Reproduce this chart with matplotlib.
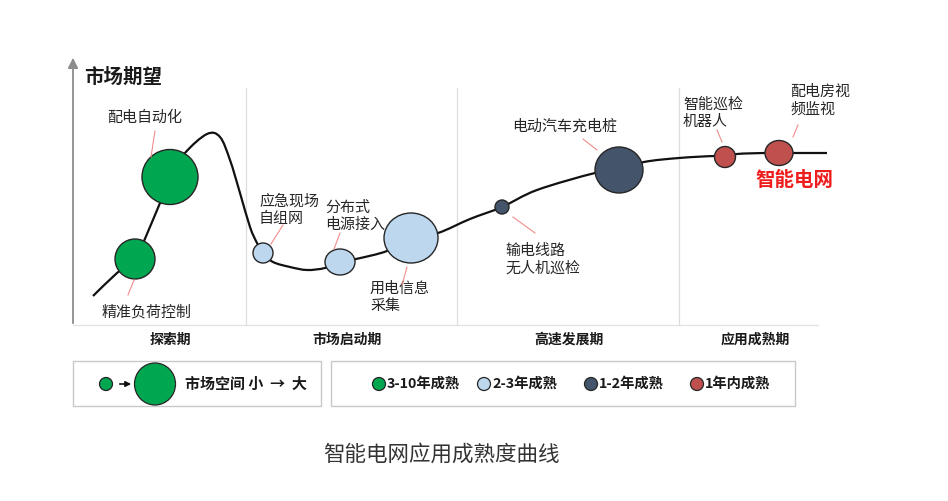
import matplotlib.pyplot as plt
from matplotlib.patches import Ellipse, Rectangle
from matplotlib.path import Path
from matplotlib.patches import PathPatch

plt.rcParams['font.family'] = ['Noto Sans CJK SC', 'DejaVu Sans']

# 曲线上读出的点 (像素坐标)
curve_x = [93, 117, 135, 160, 170, 185, 207, 220, 230, 240, 250, 257, 263, 273, 290, 307, 325, 340,
           356, 387, 411, 438, 470, 502, 537, 595, 619, 644, 679, 715, 725, 737, 765, 779, 827]
curve_y = [296, 273, 259, 203, 177, 153, 134, 137, 160, 193, 227, 243, 253, 262, 267, 270, 268, 262,
           259, 251, 238, 233, 219, 207, 190, 173, 170, 162, 158, 156, 157, 154, 153, 153, 153]

# 气泡
bubble_x = [135, 170, 263, 340, 411, 502, 619, 725, 779]
bubble_y = [259, 177, 253, 262, 238, 207, 170, 157, 153]
bubble_w = [40, 56, 20, 30, 54, 14, 48, 21, 28]
bubble_h = [40, 55, 20, 26, 50, 14, 46, 21, 25]
bubble_group = [0, 0, 1, 1, 1, 2, 2, 3, 3]

group_colors = ['#00a650', '#bdd7ee', '#44546a', '#c0504d']
group_names = ['3-10年成熟', '2-3年成熟', '1-2年成熟', '1年内成熟']

# 标注
label_text = ['精准负荷控制', '配电自动化', '应急现场\n自组网', '分布式\n电源接入', '用电信息\n采集',
              '输电线路\n无人机巡检', '电动汽车充电桩', '智能巡检\n机器人', '配电房视\n频监视']
label_x = [102, 107, 259, 325, 370, 505, 512, 683, 790]
label_y = [312, 118, 210, 216, 297, 260, 126, 113, 101]
leader_x0 = [134, 155, 283, 340, 407, 513, 583, 717, 798]
leader_y0 = [280, 131, 225, 233, 267, 217, 139, 130, 125]
leader_x1 = [128, 151, 271, 334, 402, 535, 597, 722, 793]
leader_y1 = [295, 157, 244, 249, 285, 233, 150, 142, 137]

# 阶段
phase_names = ['探索期', '市场启动期', '高速发展期', '应用成熟期']
phase_x = [170, 347, 569, 755]
sep_x = [246, 457, 679]

fig = plt.figure(figsize=(9.48, 5.01), dpi=100)
ax = fig.add_axes([0, 0, 1, 1])
ax.set_xlim(0, 948)
ax.set_ylim(501, 0)
ax.axis('off')

# 分隔线和底线
for x in sep_x:
    ax.plot([x, x], [88, 325], color='#dddddd', lw=0.9, zorder=1)
ax.plot([73, 818], [325, 325], color='#e2e2e2', lw=0.9, zorder=1)

# y 轴箭头
ax.annotate('', xy=(73, 55), xytext=(73, 326),
            arrowprops=dict(arrowstyle='-|>', color='#8c8c8c', lw=1.3, mutation_scale=15))
ax.text(84, 77, '市场期望', fontsize=14, fontweight='bold', color='#1a1a1a', va='center', ha='left')

# 平滑曲线 (Catmull-Rom 转成贝塞尔)
pts = list(zip(curve_x, curve_y))
verts = [pts[0]]
codes = [Path.MOVETO]
n = len(pts)
for i in range(n - 1):
    p0 = pts[max(i - 1, 0)]
    p1 = pts[i]
    p2 = pts[i + 1]
    p3 = pts[min(i + 2, n - 1)]
    c1 = (p1[0] + (p2[0] - p0[0]) / 6, p1[1] + (p2[1] - p0[1]) / 6)
    c2 = (p2[0] - (p3[0] - p1[0]) / 6, p2[1] - (p3[1] - p1[1]) / 6)
    verts += [c1, c2, p2]
    codes += [Path.CURVE4] * 3
ax.add_patch(PathPatch(Path(verts, codes), fill=False, edgecolor='#111111', lw=1.6, zorder=2))

for x, y, w, h, g in zip(bubble_x, bubble_y, bubble_w, bubble_h, bubble_group):
    ax.add_patch(Ellipse((x, y), w, h, facecolor=group_colors[g], edgecolor='#262626', lw=1.0, zorder=3))

for t, x, y in zip(label_text, label_x, label_y):
    ax.text(x, y, t, fontsize=10.8, color='#262626', ha='left', va='center', linespacing=1.3, zorder=4)
for xa, ya, xb, yb in zip(leader_x0, leader_y0, leader_x1, leader_y1):
    ax.plot([xa, xb], [ya, yb], color='#f08c8c', lw=0.8, zorder=4)

ax.text(755, 180, '智能电网', fontsize=14, fontweight='bold', color='#ee1c1c', ha='left', va='center')

for name, x in zip(phase_names, phase_x):
    ax.text(x, 340, name, fontsize=10, fontweight='bold', color='#1a1a1a', ha='center', va='center')

# 图例框
ax.add_patch(Rectangle((73, 361), 248, 45, fill=False, edgecolor='#c8c8c8', lw=1.0))
ax.add_patch(Rectangle((331, 361), 464, 45, fill=False, edgecolor='#c8c8c8', lw=1.0))

ax.add_patch(Ellipse((106, 384), 13, 13, facecolor=group_colors[0], edgecolor='#262626', lw=0.9))
ax.annotate('', xy=(134, 384), xytext=(117, 384),
            arrowprops=dict(arrowstyle='-|>', color='#111111', lw=1.2, mutation_scale=8))
ax.add_patch(Ellipse((155, 384), 41, 42, facecolor=group_colors[0], edgecolor='#262626', lw=0.9))
ax.text(185, 384, '市场空间 小  →  大', fontsize=10.8, fontweight='bold', color='#1a1a1a', ha='left', va='center')

legend_x = [379, 484, 591, 697]
for x, c, name in zip(legend_x, group_colors, group_names):
    ax.add_patch(Ellipse((x, 384), 13, 13, facecolor=c, edgecolor='#262626', lw=0.9))
    ax.text(x + 8, 384, name, fontsize=10.3, fontweight='bold', color='#1a1a1a', ha='left', va='center')

ax.text(441, 455, '智能电网应用成熟度曲线', fontsize=15.5, color='#333333', ha='center', va='center')

fig.savefig('out.png', dpi=100)
